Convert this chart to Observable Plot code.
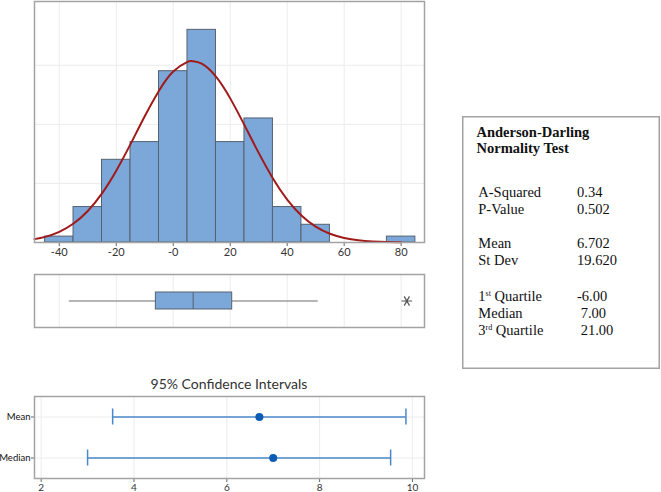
<!DOCTYPE html>
<html><head><meta charset="utf-8">
<script src="https://cdn.jsdelivr.net/npm/d3@7"></script>
<script src="https://cdn.jsdelivr.net/npm/@observablehq/plot@0.6"></script>
<style>
body{margin:0;background:#fff;}
#root{position:relative;width:661px;height:492px;overflow:hidden;font-family:Lato,sans-serif;}
#root > *{position:absolute;}
</style></head><body><div id="root"></div>
<script>
// ---------- data ----------
const binStarts = [-45,-35,-25,-15,-5,5,15,25,35,45,75];
const binCounts = [1,6,14,17,29,36,17,21,6,3,1];
const binWidth = 10;
// fitted normal curve (mean 6.702, sd 19.620), in counts per bin
const curveX = [-48.7,-45,-40,-35,-30,-25,-20,-15,-10,-5,0,5,6.702,10,15,20,25,30,35,40,45,50,55,60,65,70,75,80];
const curveY = [0.57,0.95,1.81,3.21,5.34,8.32,12.16,16.65,21.37,25.70,28.96,30.59,30.70,30.27,28.07,24.40,19.87,15.17,10.85,7.27,4.57,2.69,1.48,0.77,0.37,0.17,0.07,0.03];
const histTicks = [-40,-20,0,20,40,60,80];
const histTickLabels = ["-40","-20","-0","20","40","60","80"];
const countGrid = [10,20,30];
const boxQ1 = -6.1, boxMedian = 7.0, boxQ3 = 20.7;
const whiskerLow = -36.5, whiskerHigh = 50.9;
const outliers = [82];
const ciLabels = ["Mean","Median"];
const ciLow = [3.54, 3.0];
const ciEstimate = [6.702, 7.0];
const ciHigh = [9.86, 9.53];
const ciTicks = [2,4,6,8,10];
const ciTitle = "95% Confidence Intervals";
const statsTitle = ["Anderson-Darling","Normality Test"];
const statsGroups = [
  [["A-Squared","0.34"],["P-Value","0.502"]],
  [["Mean","6.702"],["St Dev","19.620"]],
  [["1st Quartile","-6.00"],["Median"," 7.00"],["3rd Quartile"," 21.00"]]
];

// ---------- styles ----------
const barFill = "#7ba7d9", barStroke = "#566270";
const frameColor = "#a3a3a3", gridColor = "#ececec";
const axisStyle = {fontFamily:"Lato, sans-serif", fontSize:"11px", color:"#333", background:"transparent", overflow:"visible"};
const xDomain = [-48.7, 88.2];
const root = document.getElementById("root");

// ---------- histogram ----------
const bins = binStarts.map((s,i)=>({x1:s, x2:s+binWidth, count:binCounts[i]}));
const curve = curveX.map((x,i)=>({x, y:curveY[i]}));
const hist = Plot.plot({
  width:430, height:262, marginTop:1, marginBottom:20, marginLeft:34, marginRight:6,
  x:{domain:xDomain, label:null}, y:{domain:[0,40.8], axis:null},
  style: axisStyle,
  marks:[
    Plot.gridX(histTicks,{stroke:gridColor, strokeOpacity:1}),
    Plot.gridY(countGrid,{stroke:gridColor, strokeOpacity:1}),
    Plot.rect(bins,{x1:"x1", x2:"x2", y1:()=>0, y2:"count", fill:barFill, stroke:barStroke, strokeWidth:1}),
    Plot.line(curve,{x:"x", y:"y", stroke:"#a11a1a", strokeWidth:2, curve:"natural"}),
    Plot.axisX(histTicks,{tickSize:4, tickPadding:2, stroke:"#666", label:null, tickFormat:d=>histTickLabels[histTicks.indexOf(d)]}),
    Plot.frame({stroke:frameColor, strokeWidth:1.5})
  ]
});
hist.style.left="0px"; hist.style.top="0px";
root.appendChild(hist);

// ---------- box plot ----------
const box = Plot.plot({
  width:430, height:60, marginTop:4, marginBottom:3, marginLeft:34, marginRight:6,
  x:{domain:xDomain, axis:null}, y:{domain:["Data"], axis:null, padding:0},
  style: axisStyle,
  marks:[
    Plot.gridX(histTicks,{stroke:gridColor, strokeOpacity:1}),
    Plot.ruleY(["Data"],{x1:()=>whiskerLow, x2:()=>whiskerHigh, stroke:"#6f6f6f", strokeWidth:1.2}),
    Plot.barX(["Data"],{x1:()=>boxQ1, x2:()=>boxQ3, y:d=>d, insetTop:18, insetBottom:18, fill:barFill, stroke:barStroke, strokeWidth:1}),
    Plot.tickX([boxMedian],{x:d=>d, y:()=>"Data", insetTop:18, insetBottom:18, stroke:barStroke, strokeWidth:1}),
    Plot.dot(outliers,{x:d=>d, y:()=>"Data", symbol:"asterisk", rotate:90, r:5, stroke:"#555", strokeWidth:1.2}),
    Plot.frame({stroke:frameColor, strokeWidth:1.5})
  ]
});
box.style.left="0px"; box.style.top="270px";
root.appendChild(box);

// ---------- confidence intervals ----------
const title = document.createElement("div");
title.textContent = ciTitle;
Object.assign(title.style,{left:"34px", width:"390px", top:"375px", textAlign:"center", font:"14px Lato, sans-serif", color:"#333", lineHeight:"18px"});
root.appendChild(title);

const ciRows = ciLabels.map((label,i)=>({label, lo:ciLow[i], est:ciEstimate[i], hi:ciHigh[i]}));
const ciColor = "#4a87c9";
const ci = Plot.plot({
  width:430, height:102, marginTop:6, marginBottom:14, marginLeft:34, marginRight:6,
  x:{domain:[1.856,10.26], label:null}, y:{domain:ciLabels, padding:0, label:null},
  style:{...axisStyle, fontSize:"10px"},
  marks:[
    Plot.gridX(ciTicks,{stroke:gridColor, strokeOpacity:1}),
    Plot.gridY(ciLabels,{stroke:gridColor, strokeOpacity:1}),
    Plot.ruleY(ciRows,{y:"label", x1:"lo", x2:"hi", stroke:ciColor, strokeWidth:1.5}),
    Plot.tickX(ciRows,{x:"lo", y:"label", insetTop:12.5, insetBottom:12.5, stroke:ciColor, strokeWidth:1.5}),
    Plot.tickX(ciRows,{x:"hi", y:"label", insetTop:12.5, insetBottom:12.5, stroke:ciColor, strokeWidth:1.5}),
    Plot.dot(ciRows,{x:"est", y:"label", r:4, fill:"#0b5cb5"}),
    Plot.axisX(ciTicks,{tickSize:4, tickPadding:1, stroke:"#666", label:null}),
    Plot.axisY(ciLabels,{tickSize:3, tickPadding:1, stroke:"#666", fill:"#111", label:null, fontSize:9.5}),
    Plot.frame({stroke:frameColor, strokeWidth:1.5})
  ]
});
ci.style.left="0px"; ci.style.top="390px";
root.appendChild(ci);

// ---------- statistics box ----------
const sw = 198, sh = 253;
const stats = d3.create("svg").attr("width",sw).attr("height",sh)
  .style("left","462px").style("top","116px");
stats.append("rect").attr("x",0.75).attr("y",0.75).attr("width",sw-1.5).attr("height",sh-1.5)
  .attr("fill","#fff").attr("stroke",frameColor).attr("stroke-width",1.5);
const serif = "'Liberation Serif', 'Times New Roman', serif";
statsTitle.forEach((t,i)=>{
  stats.append("text").attr("x",14.5).attr("y",20.7+i*16.7).text(t)
    .attr("font-family",serif).attr("font-weight","bold").attr("font-size",14.5).attr("fill","#111");
});
const groupStarts = [80.7, 132.3, 185];
const lineStep = 16.8;
statsGroups.forEach((g,gi)=>{
  g.forEach(([lab,val],li)=>{
    const y = groupStarts[gi] + li*lineStep;
    const t = stats.append("text").attr("x",16.3).attr("y",y)
      .attr("font-family",serif).attr("font-size",14.5).attr("fill","#111");
    const m = lab.match(/^(\d)(st|nd|rd|th) (.*)$/);
    if (m) {
      t.append("tspan").text(m[1]);
      t.append("tspan").text(m[2]).attr("font-size",8).attr("dy",-5);
      t.append("tspan").text(" "+m[3]).attr("dy",5);
    } else t.text(lab);
    stats.append("text").attr("x",115).attr("y",y).text(val)
      .attr("font-family",serif).attr("font-size",14.5).attr("fill","#111").style("white-space","pre").attr("xml:space","preserve");
  });
});
root.appendChild(stats.node());
</script></body></html>
